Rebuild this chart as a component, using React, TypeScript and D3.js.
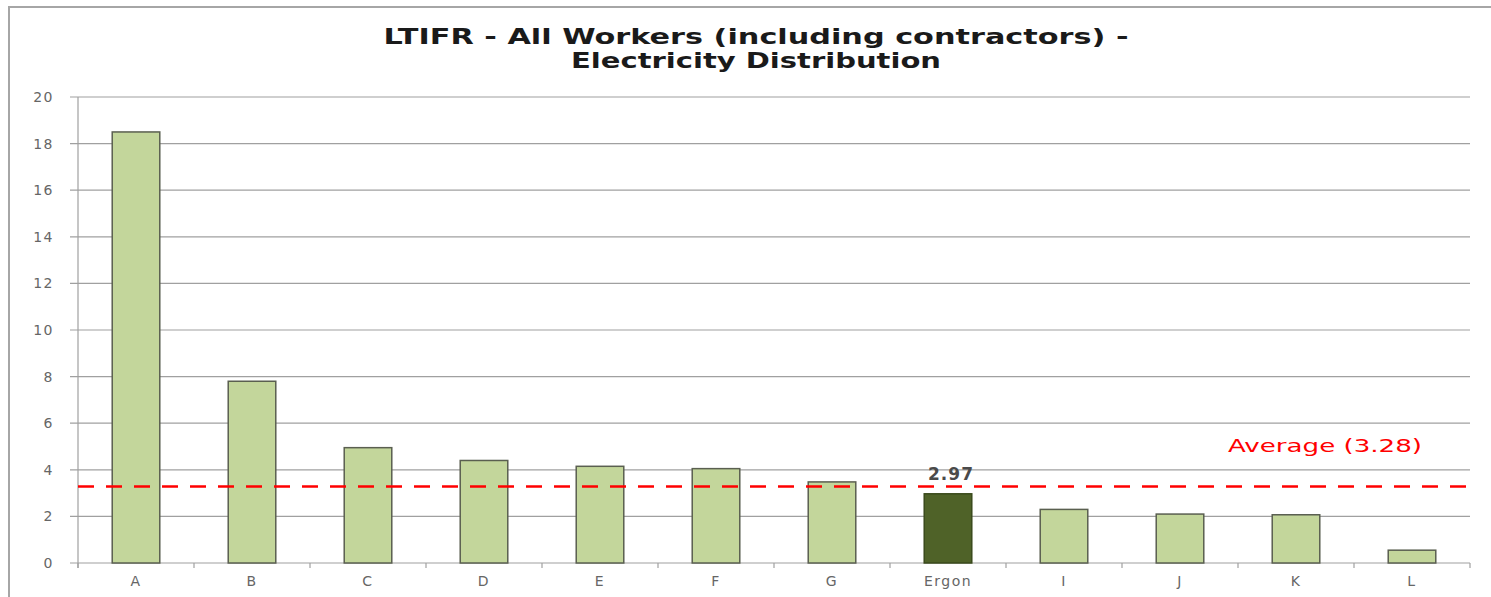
import React, {useRef, useEffect} from 'react';
import * as d3 from 'd3';

// chart data
const categories = ['A', 'B', 'C', 'D', 'E', 'F', 'G', 'Ergon', 'I', 'J', 'K', 'L'];
const ltifr = [18.5, 7.8, 4.95, 4.4, 4.15, 4.05, 3.48, 2.97, 2.3, 2.1, 2.07, 0.55];
const yTicks = [0, 2, 4, 6, 8, 10, 12, 14, 16, 18, 20];
const average = 3.28;
const highlight = 'Ergon';
const titleLines = ['LTIFR - All Workers (including contractors) -', 'Electricity Distribution'];

const config = {
    w: 1491,
    h: 597,
    left: 78,
    right: 1470,
    top: 97,
    bottom: 563
};

const App = () => {
    const svgRef = useRef(null);

    useEffect(() => {
        const svg = d3.select(svgRef.current);
        svg.selectAll('*').remove();

        const data = categories.map((c, i) => ({cat: c, value: ltifr[i]}));

        const xScale = d3.scaleBand()
            .domain(categories)
            .range([config.left, config.right])
            .paddingInner(0.59)
            .paddingOuter(0.295);
        const yScale = d3.scaleLinear()
            .domain([0, 20])
            .range([config.bottom, config.top]);

        // outer frame (top + left edges visible)
        svg.append('path')
            .attr('d', `M9,${config.h} L9,7 L${config.w},7`)
            .attr('fill', 'none')
            .attr('stroke', '#a6a6a6')
            .attr('stroke-width', 2);

        // title - stretched to mimic the wide original font
        const titleWidths = [745, 370];
        svg.append('g').selectAll('text')
            .data(titleLines)
            .join('text')
            .attr('x', 756)
            .attr('y', (d, i) => 44 + i * 24)
            .attr('text-anchor', 'middle')
            .attr('font-family', '"DejaVu Sans", sans-serif')
            .attr('font-weight', 'bold')
            .attr('font-size', 21)
            .attr('textLength', (d, i) => titleWidths[i])
            .attr('lengthAdjust', 'spacingAndGlyphs')
            .attr('fill', '#1a1a1a')
            .text(d => d);

        // gridlines
        svg.append('g').selectAll('line')
            .data(yTicks)
            .join('line')
            .attr('x1', config.left - 8)
            .attr('x2', config.right)
            .attr('y1', d => yScale(d))
            .attr('y2', d => yScale(d))
            .attr('stroke', '#a0a0a0')
            .attr('stroke-width', 1.2);

        // y axis line
        svg.append('line')
            .attr('x1', config.left).attr('x2', config.left)
            .attr('y1', config.top).attr('y2', config.bottom + 5)
            .attr('stroke', '#a0a0a0')
            .attr('stroke-width', 1.2);

        // y tick labels
        svg.append('g').selectAll('text')
            .data(yTicks)
            .join('text')
            .attr('x', config.left - 24)
            .attr('y', d => yScale(d) + 5)
            .attr('text-anchor', 'end')
            .attr('font-family', '"DejaVu Sans", sans-serif')
            .attr('font-size', 14)
            .attr('letter-spacing', 1.5)
            .attr('fill', '#666')
            .text(d => d);

        // category tick marks
        const step = xScale.step();
        svg.append('g').selectAll('line')
            .data(d3.range(categories.length + 1))
            .join('line')
            .attr('x1', i => config.left + i * step)
            .attr('x2', i => config.left + i * step)
            .attr('y1', config.bottom)
            .attr('y2', config.bottom + 5)
            .attr('stroke', '#a0a0a0')
            .attr('stroke-width', 1.2);

        // bars
        svg.append('g').selectAll('rect')
            .data(data)
            .join('rect')
            .attr('x', d => xScale(d.cat))
            .attr('y', d => yScale(d.value))
            .attr('width', xScale.bandwidth())
            .attr('height', d => yScale(0) - yScale(d.value))
            .attr('fill', d => d.cat === highlight ? '#4f6228' : '#c3d69b')
            .attr('stroke', d => d.cat === highlight ? '#3a4a1c' : '#5a5f50')
            .attr('stroke-width', 1.5);

        // category labels
        svg.append('g').selectAll('text')
            .data(categories)
            .join('text')
            .attr('x', d => xScale(d) + xScale.bandwidth() / 2)
            .attr('y', config.bottom + 23)
            .attr('text-anchor', 'middle')
            .attr('font-family', '"DejaVu Sans", sans-serif')
            .attr('font-size', 14)
            .attr('letter-spacing', 1.5)
            .attr('fill', '#666')
            .text(d => d);

        // average line
        svg.append('line')
            .attr('x1', config.left)
            .attr('x2', config.right + 3)
            .attr('y1', yScale(average))
            .attr('y2', yScale(average))
            .attr('stroke', '#ff0000')
            .attr('stroke-width', 2.5)
            .attr('stroke-dasharray', '16,12');

        svg.append('text')
            .attr('x', 1228)
            .attr('y', 452)
            .attr('font-family', '"DejaVu Sans", sans-serif')
            .attr('font-size', 18)
            .attr('textLength', 194)
            .attr('lengthAdjust', 'spacingAndGlyphs')
            .attr('fill', '#ff0000')
            .text(`Average (${average.toFixed(2)})`);

        // highlight value label
        const hl = data.find(d => d.cat === highlight);
        svg.append('text')
            .attr('x', xScale(hl.cat) + xScale.bandwidth() / 2 + 3)
            .attr('y', yScale(hl.value) - 14)
            .attr('text-anchor', 'middle')
            .attr('font-family', '"DejaVu Sans", sans-serif')
            .attr('font-weight', 'bold')
            .attr('font-size', 17)
            .attr('letter-spacing', 1)
            .attr('fill', '#4a4a4a')
            .text(hl.value.toFixed(2));
    }, []);

    return (
        <svg ref={svgRef} width={config.w} height={config.h}
             style={{position: 'absolute', left: 0, top: 0, background: '#fff'}}></svg>
    );
};

export default App;
